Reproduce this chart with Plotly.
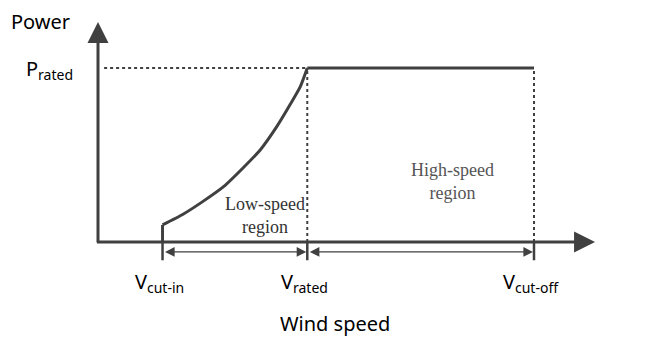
import plotly.graph_objects as go

# wind speeds (m/s) and normalised power
v_cut_in = 3.7
v_rated = 12.0
v_cut_off = 25.0
p_rated = 1.0
p_start = 0.098

curve_speed = [3.7, 4.9, 6.0, 7.2, 8.3, 9.3, 10.25, 11.0, 11.6, 12.0]
curve_power = [0.098, 0.161, 0.232, 0.318, 0.424, 0.529, 0.663, 0.787, 0.893, 1.0]

speed_labels = ["V<sub>cut-in</sub>", "V<sub>rated</sub>", "V<sub>cut-off</sub>"]
speed_marks = [v_cut_in, v_rated, v_cut_off]

axis_x_end = 28.5
axis_y_end = 1.265

LINE = "#404040"
SANS = "Noto Sans"
SERIF = "Liberation Serif"

# the page body adds an 8px margin, so the figure is 8px smaller on each axis
PX_X = 17.44
PX_Y = 174.0
OX, OY = 98 - 8, 242 - 8
W, H = 654, 333

fig = go.Figure()

# power curve: vertical start, cubic-like rise, flat rated part
fig.add_trace(go.Scatter(x=[v_cut_in, v_cut_in], y=[0, p_start], mode="lines",
                         line=dict(color=LINE, width=3), hoverinfo="skip"))
fig.add_trace(go.Scatter(x=curve_speed, y=curve_power, mode="lines",
                         line=dict(color=LINE, width=3, shape="spline", smoothing=0.6),
                         hoverinfo="skip"))
fig.add_trace(go.Scatter(x=[v_rated, v_cut_off], y=[p_rated, p_rated], mode="lines",
                         line=dict(color=LINE, width=3), hoverinfo="skip"))

# dotted guides
fig.add_trace(go.Scatter(x=[0.35, v_rated], y=[p_rated, p_rated], mode="lines",
                         line=dict(color=LINE, width=2, dash="dot"), hoverinfo="skip"))
for v in [v_rated, v_cut_off]:
    fig.add_trace(go.Scatter(x=[v, v], y=[0, p_rated], mode="lines",
                             line=dict(color=LINE, width=2, dash="dot"), hoverinfo="skip"))

# tick marks under the axis
for v in speed_marks:
    fig.add_trace(go.Scatter(x=[v, v], y=[0, -0.105], mode="lines",
                             line=dict(color=LINE, width=2.5), hoverinfo="skip"))

# axes with arrowheads
fig.add_annotation(x=axis_x_end, y=0, ax=-0.15, ay=0, xref="x", yref="y", axref="x", ayref="y",
                   text="", showarrow=True, arrowhead=2, arrowsize=1.4, arrowwidth=3,
                   arrowcolor=LINE, standoff=0)
fig.add_annotation(x=0, y=axis_y_end, ax=0, ay=-0.01, xref="x", yref="y", axref="x", ayref="y",
                   text="", showarrow=True, arrowhead=2, arrowsize=1.4, arrowwidth=3,
                   arrowcolor=LINE, standoff=0)

# region spans
for a, b in [(v_cut_in, v_rated), (v_rated, v_cut_off)]:
    fig.add_annotation(x=b, y=-0.057, ax=a, ay=-0.057, xref="x", yref="y", axref="x", ayref="y",
                       text="", showarrow=True, arrowhead=2, startarrowhead=2, arrowside="end+start",
                       arrowsize=1.6, startarrowsize=1.6, arrowwidth=1.2, arrowcolor=LINE,
                       standoff=1, startstandoff=1)

# texts
fig.add_annotation(x=-3.27, y=1.265, text="Power", showarrow=False,
                   font=dict(family=SANS, size=20, color="black"))
fig.add_annotation(x=-1.3, y=0.99, text="P<sub>rated</sub>", showarrow=False, xanchor="right",
                   font=dict(family=SANS, size=20, color="black"))
for v, lab in zip(speed_marks, speed_labels):
    fig.add_annotation(x=v - 0.15, y=-0.23, text=lab, showarrow=False,
                       font=dict(family=SANS, size=20, color="black"))
fig.add_annotation(x=13.6, y=-0.47, text="Wind speed", showarrow=False,
                   font=dict(family=SANS, size=20, color="black"))

fig.add_annotation(x=9.6, y=0.150, text="Low-speed<br>region", showarrow=False,
                   font=dict(family=SERIF, size=18, color="#333333"))
fig.add_annotation(x=20.3, y=0.350, text="High-speed<br>region", showarrow=False,
                   font=dict(family=SERIF, size=18, color="#555555"))

fig.update_layout(
    width=W, height=H,
    margin=dict(l=0, r=0, t=0, b=0),
    paper_bgcolor="white", plot_bgcolor="white",
    showlegend=False,
    xaxis=dict(range=[-OX / PX_X, (W - OX) / PX_X], visible=False, fixedrange=True),
    yaxis=dict(range=[(OY - H) / PX_Y, OY / PX_Y], visible=False, fixedrange=True),
)

fig.write_html("out.html")
